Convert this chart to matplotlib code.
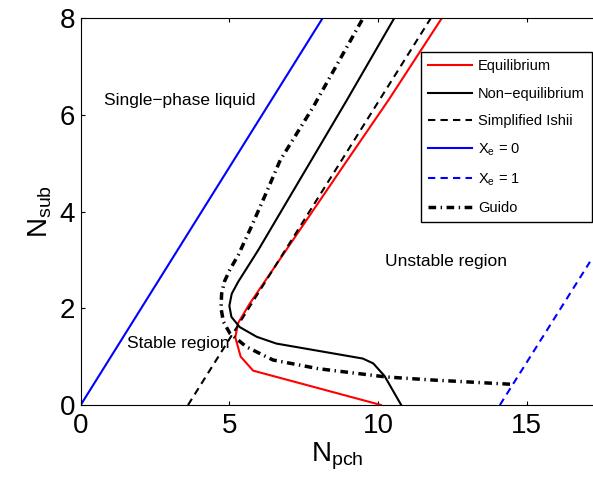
import matplotlib
matplotlib.use("Agg")
import matplotlib.pyplot as plt

plt.rcParams["font.family"] = ["Liberation Sans", "DejaVu Sans"]
plt.rcParams["mathtext.fontset"] = "custom"
plt.rcParams["mathtext.rm"] = "Liberation Sans"
plt.rcParams["mathtext.it"] = "Liberation Sans:italic"

# curves (N_pch, N_sub)
eq_x = [10.1, 5.8, 5.38, 5.2, 5.3, 5.69, 6.83, 8.9, 10.35, 12.15]
eq_y = [0.0, 0.71, 1.0, 1.4, 1.7, 2.1, 3.13, 5.0, 6.3, 8.0]

neq_x = [10.78, 10.22, 9.84, 9.49, 6.58, 5.92, 5.35, 5.07, 5.0, 5.08, 5.3, 5.97, 6.70, 8.95, 10.55]
neq_y = [0.0, 0.6, 0.86, 0.96, 1.27, 1.41, 1.61, 1.82, 2.05, 2.3, 2.55, 3.2, 3.96, 6.3, 8.0]

ishii_x = [3.61, 11.78]
ishii_y = [0.0, 8.0]

xe0_x = [0.0, 8.14]
xe0_y = [0.0, 8.0]

xe1_x = [14.1, 17.13]
xe1_y = [0.0, 2.96]

guido_x = [14.44, 11.73, 10.27, 8.0, 6.47, 5.58, 5.02, 4.8, 4.72, 4.74, 4.84, 5.02, 5.3,
           5.75, 6.25, 6.71, 7.82, 9.5]
guido_y = [0.43, 0.52, 0.58, 0.75, 0.93, 1.2, 1.48, 1.72, 2.0, 2.3, 2.56, 2.8, 3.1,
           3.7, 4.4, 5.06, 6.16, 8.0]

fig = plt.figure(figsize=(5.93, 4.79), dpi=100)
ax = fig.add_axes([80.7 / 593, 1 - 405 / 479, (594 - 80.7) / 593, (405 - 18) / 479])

ax.plot(eq_x, eq_y, color="red", lw=1.5, label="Equilibrium")
ax.plot(neq_x, neq_y, color="black", lw=1.5, label="Non\u2212equilibrium")
ax.plot(ishii_x, ishii_y, color="black", lw=1.5, linestyle=(0, (3.5, 2.5)),
        label="Simplified Ishii")
ax.plot(xe0_x, xe0_y, color="blue", lw=1.5, label=r"$\mathregular{X_e}$ = 0")
ax.plot(xe1_x, xe1_y, color="blue", lw=1.5, linestyle=(0, (3.5, 2.5)),
        label=r"$\mathregular{X_e}$ = 1")
ax.plot(guido_x, guido_y, color="black", lw=2.5, linestyle=(0, (2.2, 1.3, 0.4, 1.3)),
        label="Guido")

ax.text(0.78, 6.3, "Single\u2212phase liquid", fontsize=12.5, va="center")
ax.text(1.55, 1.28, "Stable region", fontsize=12.5, va="center")
ax.text(10.24, 2.96, "Unstable region", fontsize=12.5, va="center")

ax.set_xlim(0, (594 - 80.7) / 29.73)
ax.set_ylim(0, 8)
ax.set_xticks([0, 5, 10, 15])
ax.set_yticks([0, 2, 4, 6, 8])
ax.tick_params(direction="in", length=3, labelsize=20, top=True, right=False, pad=6)
ax.tick_params(axis="y", pad=4)
ax.spines["right"].set_visible(False)

ax.set_xlabel(r"$\mathregular{N_{pch}}$", fontsize=20, labelpad=1)
ax.set_ylabel(r"$\mathregular{N_{sub}}$", fontsize=20, labelpad=4)

leg = ax.legend(loc="upper right", bbox_to_anchor=(592 / 593, 1 - 52 / 479),
                bbox_transform=fig.transFigure, borderaxespad=0, fontsize=10.5,
                fancybox=False, framealpha=1, edgecolor="black",
                handlelength=3.0, handletextpad=0.4, labelspacing=0.92,
                borderpad=0.5)
leg.get_frame().set_linewidth(1.0)

fig.savefig("out.png", dpi=100)
